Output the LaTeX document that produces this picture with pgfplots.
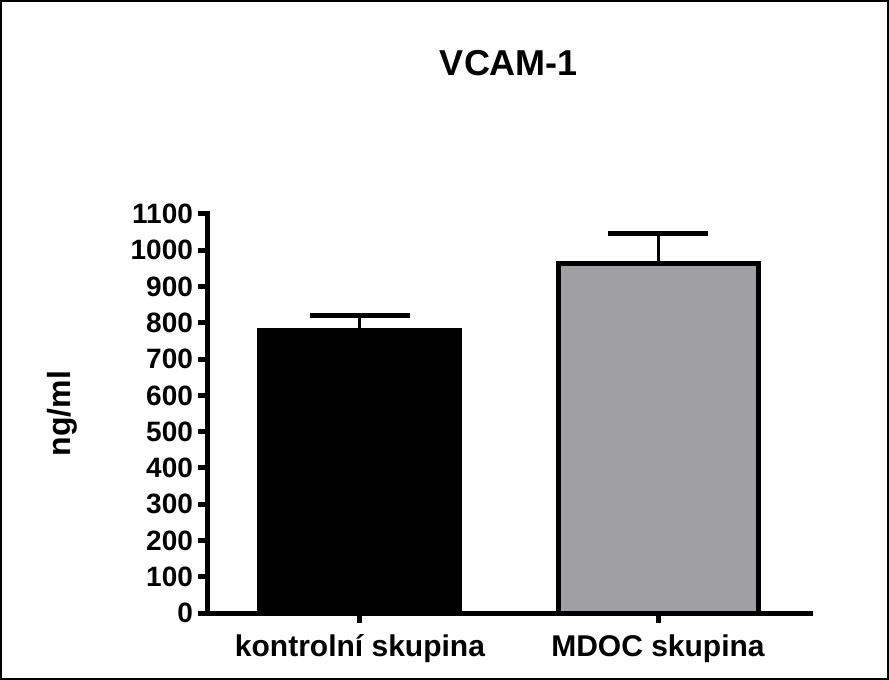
\documentclass[border=0pt]{standalone}
\usepackage{pgfplots}
\pgfplotsset{compat=1.18}
\usepackage{fontspec}
\setmainfont{Liberation Sans}
\definecolor{bargrey}{RGB}{160,159,164}
\begin{document}
\begin{tikzpicture}[x=1pt,y=1pt]
\useasboundingbox (-104,-33.5) rectangle (340.5,306.5);
\draw[line width=0.8pt] (-103.6,-33.1) rectangle (340.1,306.1);
\begin{axis}[
  scale only axis,
  width=301pt, height=199.5pt,
  xmin=-0.51, xmax=1.51,
  ymin=0, ymax=1100,
  axis x line*=bottom, axis y line*=left,
  axis line style={line width=2.5pt, line cap=rect},
  every tick/.style={line width=2.5pt, black},
  tick align=outside,
  major tick length=5pt,
  xtick={0,1},
  xticklabels={kontrolní skupina, MDOC skupina},
  ytick={0,100,...,1100},
  yticklabel style={font=\fontsize{14}{16}\selectfont\bfseries, xshift=1pt},
  xticklabel style={font=\fontsize{15}{17}\selectfont\bfseries, text height=11pt, text depth=3pt, yshift=-2pt},
  /pgf/number format/assume math mode=true,
  /pgf/number format/1000 sep={},
  title={VCAM-1},
  title style={font=\fontsize{18}{20}\selectfont\bfseries, at={(axis description cs:0.5,1)}, yshift=69.5pt, anchor=center},
  ylabel={ng/ml},
  every axis y label/.style={font=\fontsize{16}{18}\selectfont\bfseries, at={(axis description cs:0,0.5)}, xshift=-73pt, rotate=90, anchor=center},
  clip=false,
]
\addplot[ybar, bar width=100pt, fill=black, draw=black, line width=2.5pt,
  error bars/.cd, y dir=plus, y explicit,
  error bar style={line width=1.5pt, black},
  error mark options={line width=2.5pt, mark size=25pt, rotate=90}]
  coordinates {(0,778) +- (0,42)};
\addplot[ybar, bar width=100pt, fill=bargrey, draw=black, line width=2.5pt,
  error bars/.cd, y dir=plus, y explicit,
  error bar style={line width=1.5pt, black},
  error mark options={line width=2.5pt, mark size=25pt, rotate=90}]
  coordinates {(1,963) +- (0,83)};
\end{axis}
\end{tikzpicture}
\end{document}
